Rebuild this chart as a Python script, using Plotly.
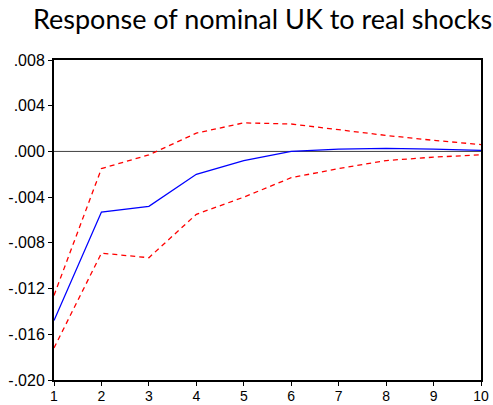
import plotly.graph_objects as go

# Impulse response of nominal UK to real shocks, with +/- 2 s.e. bands
periods = [1, 2, 3, 4, 5, 6, 7, 8, 9, 10]
response = [-0.0148, -0.0053, -0.0048, -0.0020, -0.0008, 0.0000, 0.0002, 0.00026, 0.0002, 0.0001]
upper_band = [-0.0126, -0.0015, -0.0003, 0.0016, 0.0025, 0.0024, 0.0019, 0.0014, 0.00097, 0.0006]
lower_band = [-0.0172, -0.0089, -0.0093, -0.0055, -0.0040, -0.0023, -0.0015, -0.0008, -0.0005, -0.0003]

y_tickvals = [0.008, 0.004, 0.0, -0.004, -0.008, -0.012, -0.016, -0.020]
y_ticktext = [".008", ".004", ".000", "-.004", "-.008", "-.012", "-.016", "-.020"]

fig = go.Figure()
fig.add_trace(go.Scatter(x=periods, y=upper_band, mode="lines",
                         line=dict(color="#ff0000", width=1.3, dash="5px,4px")))
fig.add_trace(go.Scatter(x=periods, y=lower_band, mode="lines",
                         line=dict(color="#ff0000", width=1.3, dash="5px,4px")))
fig.add_trace(go.Scatter(x=periods, y=response, mode="lines",
                         line=dict(color="#0000ff", width=1.3)))

fig.add_hline(y=0, line=dict(color="#404040", width=1), layer="below")

axis_common = dict(showgrid=False, zeroline=False, showline=True, linecolor="black",
                   linewidth=2, mirror=True, ticks="outside", ticklen=4, tickwidth=1,
                   tickcolor="black", automargin=False)

fig.update_xaxes(range=[1, 10], tickvals=periods, ticklabelstandoff=-2,
                 tickfont=dict(family="Liberation Sans, Arial", size=14, color="black"),
                 **axis_common)
fig.update_yaxes(range=[-0.020, 0.008], tickvals=y_tickvals, ticktext=y_ticktext,
                 tickfont=dict(family="Liberation Sans, Arial", size=16, color="black"),
                 **axis_common)

fig.add_annotation(text="Response of nominal UK to real shocks", xref="paper", yref="paper",
                   x=0.488, y=1.0, yshift=23, xanchor="center", yanchor="bottom", showarrow=False,
                   font=dict(family="Lato", size=27, color="black"))

fig.update_layout(width=493, height=405, showlegend=False,
                  plot_bgcolor="white", paper_bgcolor="white",
                  margin=dict(l=54, r=12, t=60, b=25))

fig.write_html("out.html")
